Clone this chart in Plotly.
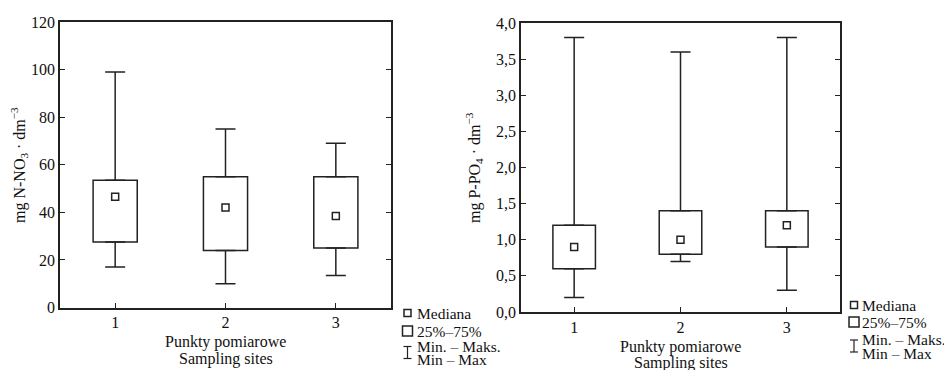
import plotly.graph_objects as go

# ---------------- data ----------------
sites = [1, 2, 3]
site_labels = ["1", "2", "3"]

no3_min = [17, 10, 13.5]
no3_q1 = [27.5, 24, 25]
no3_med = [46.5, 42, 38.5]
no3_q3 = [53.5, 55, 55]
no3_max = [99, 75, 69]

po4_min = [0.2, 0.7, 0.3]
po4_q1 = [0.6, 0.8, 0.9]
po4_med = [0.9, 1.0, 1.2]
po4_q3 = [1.2, 1.4, 1.4]
po4_max = [3.8, 3.6, 3.8]

no3_ticks = [0, 20, 40, 60, 80, 100, 120]
no3_ticktext = ["0", "20", "40", "60", "80", "100", "120"]
po4_ticks = [0, 0.5, 1.0, 1.5, 2.0, 2.5, 3.0, 3.5, 4.0]
po4_ticktext = ["0,0", "0,5", "1,0", "1,5", "2,0", "2,5", "3,0", "3,5", "4,0"]

# page body has an 8px default margin -> compensate
OFF = 8
W, H = 952 - OFF, 370 - OFF
FONT = "Liberation Serif"
LC = "#222222"


def px(x):
    return (x - OFF) / W


def py(y):
    return 1 - (y - OFF) / H


fig = go.Figure()


def add_panel(xref, yref, mn, q1, md, q3, mx, bw):
    fig.add_trace(go.Bar(
        x=sites, y=[b - a for a, b in zip(q1, q3)], base=q1, width=bw,
        marker=dict(color="white", line=dict(color=LC, width=1.5)),
        xaxis=xref, yaxis=yref, showlegend=False, hoverinfo="skip"))
    fig.add_trace(go.Scatter(
        x=sites, y=q3, mode="markers",
        marker=dict(size=1, color="rgba(0,0,0,0)"),
        error_y=dict(type="data", symmetric=False,
                     array=[b - a for a, b in zip(q3, mx)],
                     arrayminus=[0, 0, 0], color=LC, thickness=1.5, width=10),
        xaxis=xref, yaxis=yref, showlegend=False, hoverinfo="skip"))
    fig.add_trace(go.Scatter(
        x=sites, y=q1, mode="markers",
        marker=dict(size=1, color="rgba(0,0,0,0)"),
        error_y=dict(type="data", symmetric=False,
                     array=[0, 0, 0],
                     arrayminus=[a - b for a, b in zip(q1, mn)],
                     color=LC, thickness=1.5, width=10),
        xaxis=xref, yaxis=yref, showlegend=False, hoverinfo="skip"))
    fig.add_trace(go.Scatter(
        x=sites, y=md, mode="markers",
        marker=dict(symbol="square", size=7, color="white",
                    line=dict(color=LC, width=1.5)),
        xaxis=xref, yaxis=yref, showlegend=False, hoverinfo="skip"))


add_panel("x", "y", no3_min, no3_q1, no3_med, no3_q3, no3_max, 0.4)
add_panel("x2", "y2", po4_min, po4_q1, po4_med, po4_q3, po4_max, 0.4)

tickfont = dict(family=FONT, size=16, color="#111")

common_x = dict(range=[0.5, 3.5], tickvals=sites, ticktext=site_labels,
                ticks="inside", ticklen=5, tickcolor=LC, tickwidth=1.2,
                showline=True, linecolor=LC, linewidth=1.5, mirror=True,
                showgrid=False, zeroline=False, tickfont=tickfont,
                automargin=False, fixedrange=True)
common_y = dict(ticks="inside", ticklen=5, tickcolor=LC, tickwidth=1.2,
                showline=True, linecolor=LC, linewidth=1.5, mirror="ticks",
                showgrid=False, zeroline=False, tickfont=tickfont,
                automargin=False, fixedrange=True)

fig.update_layout(
    width=W, height=H,
    margin=dict(l=0, r=0, t=0, b=0),
    paper_bgcolor="white", plot_bgcolor="white",
    font=dict(family=FONT, color="#111"),
    showlegend=False,
    xaxis=dict(domain=[px(60), px(391)], anchor="y", **common_x),
    yaxis=dict(domain=[py(307.5), py(22)], anchor="x", range=[0, 120],
               tickvals=no3_ticks, ticktext=no3_ticktext, **common_y),
    xaxis2=dict(domain=[px(521), px(840)], anchor="y2", **common_x),
    yaxis2=dict(domain=[py(312), py(23)], anchor="x2", range=[0, 4],
                tickvals=po4_ticks, ticktext=po4_ticktext, **common_y),
)

ann = []
tfont = dict(family=FONT, size=16, color="#111")
lfont = dict(family=FONT, size=15.5, color="#111")
for cx, y1, y2 in [((60 + 391) / 2, 342, 359), ((521 + 840) / 2, 347, 363)]:
    ann.append(dict(x=px(cx), y=py(y1), xref="paper", yref="paper",
                    text="Punkty pomiarowe", showarrow=False, font=tfont,
                    xanchor="center", yanchor="middle"))
    ann.append(dict(x=px(cx), y=py(y2), xref="paper", yref="paper",
                    text="Sampling sites", showarrow=False, font=tfont,
                    xanchor="center", yanchor="middle"))
ann.append(dict(x=px(19), y=py(165), xref="paper", yref="paper",
                text="mg N-NO<sub>3</sub> · dm<sup>−3</sup>", textangle=-90,
                showarrow=False, font=dict(family=FONT, size=16, color="#111"),
                xanchor="center", yanchor="middle"))
ann.append(dict(x=px(474), y=py(168), xref="paper", yref="paper",
                text="mg P-PO<sub>4</sub> · dm<sup>−3</sup>", textangle=-90,
                showarrow=False, font=dict(family=FONT, size=16, color="#111"),
                xanchor="center", yanchor="middle"))

shapes = []


def legend(x0, ys, tx):
    ym, yb, yw1, yw2 = ys
    shapes.append(dict(type="rect", xref="paper", yref="paper",
                       x0=px(x0 - 3.5), x1=px(x0 + 3.5),
                       y0=py(ym + 3.5), y1=py(ym - 3.5),
                       line=dict(color=LC, width=1.5), fillcolor="white"))
    shapes.append(dict(type="rect", xref="paper", yref="paper",
                       x0=px(x0 - 5), x1=px(x0 + 5),
                       y0=py(yb + 5), y1=py(yb - 5),
                       line=dict(color=LC, width=1.5), fillcolor="white"))
    wc = (yw1 + yw2) / 2
    for seg in [(x0, wc - 6, x0, wc + 6), (x0 - 4, wc - 6, x0 + 4, wc - 6),
                (x0 - 4, wc + 6, x0 + 4, wc + 6)]:
        shapes.append(dict(type="line", xref="paper", yref="paper",
                           x0=px(seg[0]), y0=py(seg[1]),
                           x1=px(seg[2]), y1=py(seg[3]),
                           line=dict(color=LC, width=1.2)))
    for t, yy in [("Mediana", ym), ("25%–75%", yb), ("Min. – Maks.", yw1),
                  ("Min – Max", yw2)]:
        ann.append(dict(x=px(tx), y=py(yy), xref="paper", yref="paper",
                        text=t, showarrow=False, font=lfont,
                        xanchor="left", yanchor="middle"))


legend(407.5, (313, 331, 346, 359), 415)
legend(854, (305, 322, 339, 353), 860)

fig.update_layout(annotations=ann, shapes=shapes)

fig.write_html("out.html")
